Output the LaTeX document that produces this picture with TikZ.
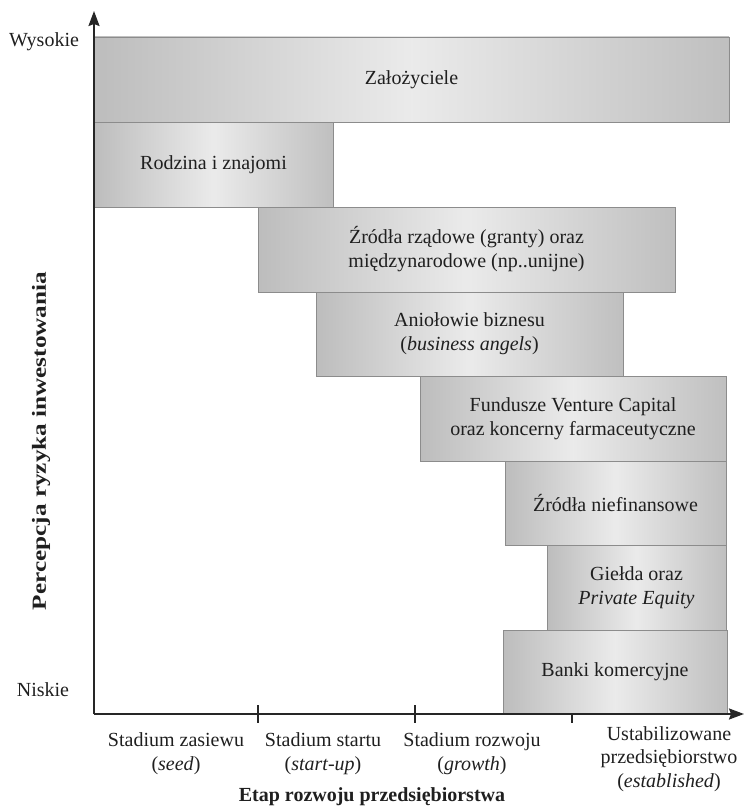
\documentclass[tikz,border=0pt]{standalone}
\usepackage{fontspec}
\setmainfont{Liberation Serif}
\usetikzlibrary{arrows.meta}
\begin{document}
\begin{tikzpicture}[x=1pt,y=-1pt,
  box/.style={draw=black!45, line width=0.9pt, left color=black!26, right color=black!25, middle color=black!8,
    anchor=north west, inner sep=0pt, outer sep=0pt, align=center, text=black!88,
    font=\fontsize{20}{24}\selectfont},
  lab/.style={align=center, text=black!88, font=\fontsize{20}{24}\selectfont},
  axisline/.style={line width=1.9pt, black!85, -{Stealth[length=15pt,width=11pt,inset=2pt]}},
  tick/.style={line width=1.6pt, black!85}]
\useasboundingbox (0,0) rectangle (744,808);

% ticks (drawn first, boxes may cover them)
\draw[tick] (258,705) -- (258,723);
\draw[tick] (415,705) -- (415,723);
\draw[tick] (572,705) -- (572,723);

% boxes
\node[box, minimum width=635pt, minimum height=85pt] (zal) at (94,37) {Założyciele};
\node[box, minimum width=239pt, minimum height=85pt] (rodz) at (94,122) {Rodzina i znajomi};
\node[box, minimum width=417pt, minimum height=85pt] (rzad) at (258,207) {Źródła rządowe (granty) oraz\\międzynarodowe (np..unijne)};
\node[box, minimum width=307pt, minimum height=84pt] (aniol) at (316,292) {Aniołowie biznesu\\(\textit{business angels})};
\node[box, minimum width=306pt, minimum height=85pt] (vc) at (420,376) {Fundusze Venture Capital\\oraz koncerny farmaceutyczne};
\node[box, minimum width=221pt, minimum height=84pt] (nief) at (505,461) {Źródła niefinansowe};
\node[box, minimum width=179pt, minimum height=85pt] (gielda) at (547,545) {Giełda oraz\\\textit{Private Equity}};
\node[box, minimum width=224pt, minimum height=83pt] (banki) at (503,630) {Banki komercyjne};

% axes
\coordinate (O) at (94,714);
\coordinate (Ytop) at (94,11);
\coordinate (Xend) at (744,714);
\draw[axisline] (O) -- (Ytop);
\draw[axisline] (O) -- (Xend);

% axis labels
\node[lab] (wys) at (44,42) {Wysokie};
\node[lab] (nisk) at (43,690) {Niskie};
\node[lab, rotate=90, font=\fontsize{20}{24}\selectfont\bfseries] (perc) at (41,441) {\scalebox{1.26}[1]{Percepcja ryzyka inwestowania}};

\node[lab] (seed) at (176,754) {Stadium zasiewu\\(\textit{seed})};
\node[lab] (start) at (323,754) {Stadium startu\\(\textit{start-up})};
\node[lab] (growth) at (472,754) {Stadium rozwoju\\(\textit{growth})};
\node[lab, font=\fontsize{20}{23.5}\selectfont] (est) at (669,759) {Ustabilizowane\\przedsiębiorstwo\\(\textit{established})};
\node[lab, font=\fontsize{20}{24}\selectfont\bfseries] (etap) at (372,797) {Etap rozwoju przedsiębiorstwa};
\end{tikzpicture}
\end{document}
